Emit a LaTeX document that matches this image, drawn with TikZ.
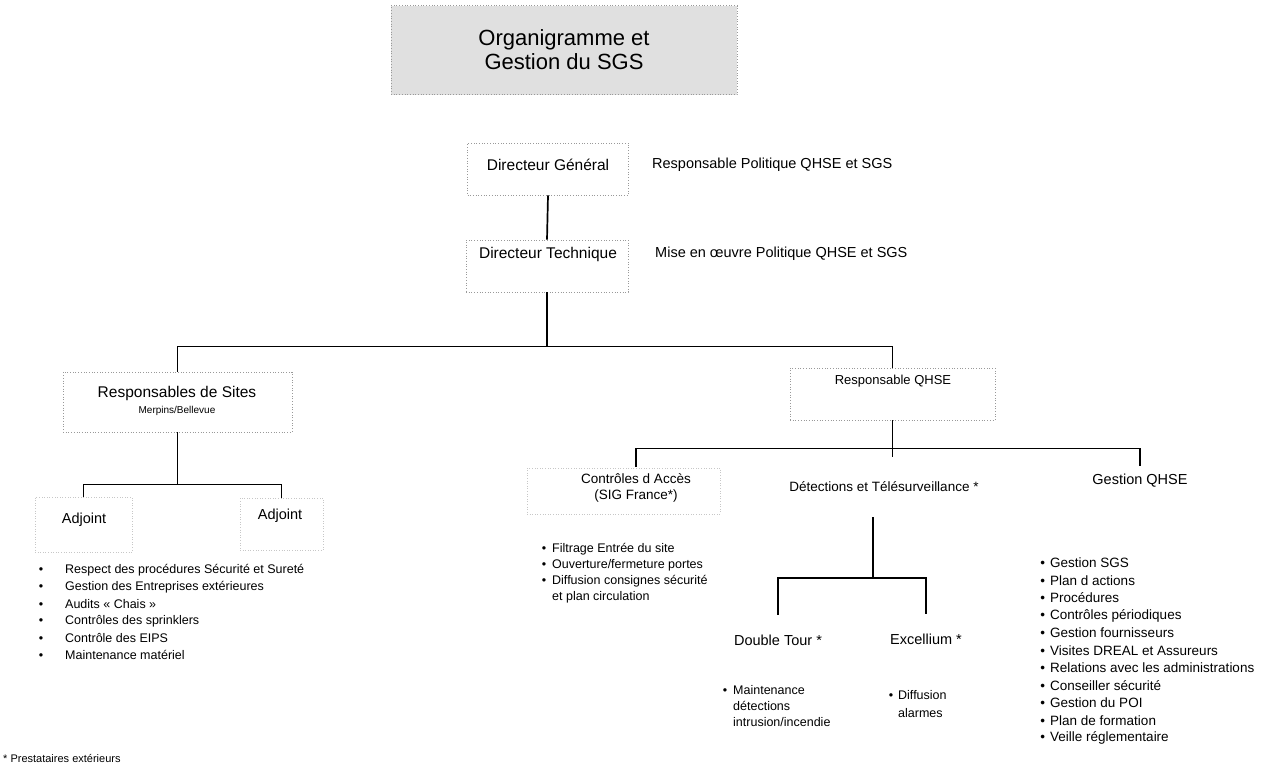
\documentclass[tikz,border=0pt]{standalone}
\usepackage{fontspec}
\setmainfont{Liberation Sans}
\usetikzlibrary{positioning}

\begin{document}
\begin{tikzpicture}[
        x=1pt, y=-1pt,
        font=\fontsize{12.5}{15}\selectfont,
        box/.style={draw=black!40, dotted, line width=0.7pt},
        ghost/.style={draw=black!22, dotted, line width=0.6pt},
        head/.style={font=\fontsize{14.5}{17}\selectfont, align=center, inner sep=0pt},
        sub/.style={font=\fontsize{13.5}{16}\selectfont, align=center, inner sep=0pt},
        role/.style={font=\fontsize{14.5}{17}\selectfont, anchor=west, inner sep=0pt},
        link/.style={line width=1.7pt},
        item/.style={anchor=west, inner sep=0pt},
      ]
        \useasboundingbox (0,0) rectangle (1266,771);
        % ---- titre ----
        \node[box, fill=black!12, minimum width=346, minimum height=89,
              font=\fontsize{22}{24}\selectfont, align=center] (titre) at (564,50)
              {Organigramme et\\Gestion du SGS};
        % ---- direction ----
        \node[box, minimum width=161, minimum height=52] (dg) at (548,169) {};
        \node[head, font=\fontsize{15.5}{18}\selectfont] (dgt) at (548,165) {Directeur Général};
        \node[role] (dgr) at (652,165) {Responsable Politique QHSE et SGS};
        \node[box, minimum width=162, minimum height=52] (dt) at (547,266) {};
        \node[head, font=\fontsize{15.5}{18}\selectfont] (dtt) at (548,254) {Directeur Technique};
        \node[role] (dtr) at (655,254) {Mise en {\oe}uvre Politique QHSE et SGS};
        % ---- responsables ----
        \node[box, minimum width=229, minimum height=60] (sites) at (177.5,402) {};
        \node[head, font=\fontsize{15.5}{18}\selectfont] (sitest) at (177,393) {Responsables de Sites};
        \node[font=\fontsize{10}{12}\selectfont, inner sep=0pt] (sitess) at (177,411) {Merpins/Bellevue};
        \node[box, minimum width=205, minimum height=52] (qhse) at (892.5,394) {};
        \node[head, font=\fontsize{13}{15}\selectfont] (qhset) at (893,381) {Responsable QHSE};
        % ---- liaisons direction ----
        \draw[link] (dg.south) -- (dt.north);
        \draw[link] (dt.south) -- ++(0,54) coordinate (b1);
        \draw[link] (sites.north) |- (b1) -| (qhse.north);
        % ---- adjoints ----
        \node[ghost, minimum width=97, minimum height=55] (adj1) at (83.5,524.5) {};
        \node[head] (adj1t) at (84,520) {Adjoint};
        \node[ghost, minimum width=83, minimum height=52] (adj2) at (281.5,524) {};
        \node[head] (adj2t) at (280,516) {Adjoint};
        \draw[link] (sites.south) -- ++(0,52) coordinate (b2);
        \draw[link] (adj1.north) |- (b2) -| (adj2.north);
        \foreach \t [count=\i] in {Respect des procédures Sécurité et Sureté,
            Gestion des Entreprises extérieures, Audits « Chais »,
            Contrôles des sprinklers, Contrôle des EIPS, Maintenance matériel}
          {\node[item] (site\i) at (65,553+17*\i) {\llap{\textbullet\hspace{22pt}}\t};}
        % ---- pôle QHSE ----
        \node[ghost, minimum width=193, minimum height=46] (acc) at (623.5,491) {};
        \node[sub, minimum height=42] (acct) at (636,488) {Contrôles d Accès\\(SIG France*)};
        \node[sub] (det) at (884,487) {Détections et Télésurveillance *};
        \node[head, minimum height=30] (gq) at (1140,481) {Gestion QHSE};
        \draw[link] (qhse.south) -- ++(0,28) coordinate (b3) -- ++(0,9);
        \draw[link] (acct.north) |- (b3) -| (gq.north);
        \foreach \t [count=\i] in {Filtrage Entrée du site, Ouverture/fermeture portes,
            Diffusion consignes sécurité}
          {\node[item] (acc\i) at (552,533+16*\i) {\llap{\textbullet\hspace{6pt}}\t};}
        \node[item] (acc4) at (552,597) {et plan circulation};
        \foreach \t [count=\i] in {Gestion SGS, Plan d actions, Procédures,
            Contrôles périodiques, Gestion fournisseurs, Visites DREAL et Assureurs,
            Relations avec les administrations, Conseiller sécurité, Gestion du POI,
            Plan de formation, Veille réglementaire}
          {\node[item, font=\fontsize{13.5}{16}\selectfont] (gq\i) at (1050,545.5+17.5*\i) {\llap{\textbullet\hspace{5pt}}\t};}
        % ---- télésurveillance ----
        \coordinate (b4) at (873,578);
        \node[head, minimum height=50] (dtour) at (778,640) {Double Tour *};
        \node[head, minimum height=50] (exc) at (926,639) {Excellium *};
        \draw[link] (b4) ++(0,-61) -- (b4);
        \draw[link] (dtour.north) |- (b4) -| (exc.north);
        \node[item] (dt1) at (733,690) {\llap{\textbullet\hspace{6pt}}Maintenance};
        \node[item] (dt2) at (733,706) {détections};
        \node[item] (dt3) at (733,722) {intrusion/incendie};
        \node[item] (ex1) at (898,695) {\llap{\textbullet\hspace{5pt}}Diffusion};
        \node[item] (ex2) at (898,713) {alarmes};
        % ---- renvoi ----
        \node[item, font=\fontsize{11}{13}\selectfont] (renvoi) at (3,758) {* Prestataires extérieurs};
      \end{tikzpicture}
\end{document}
